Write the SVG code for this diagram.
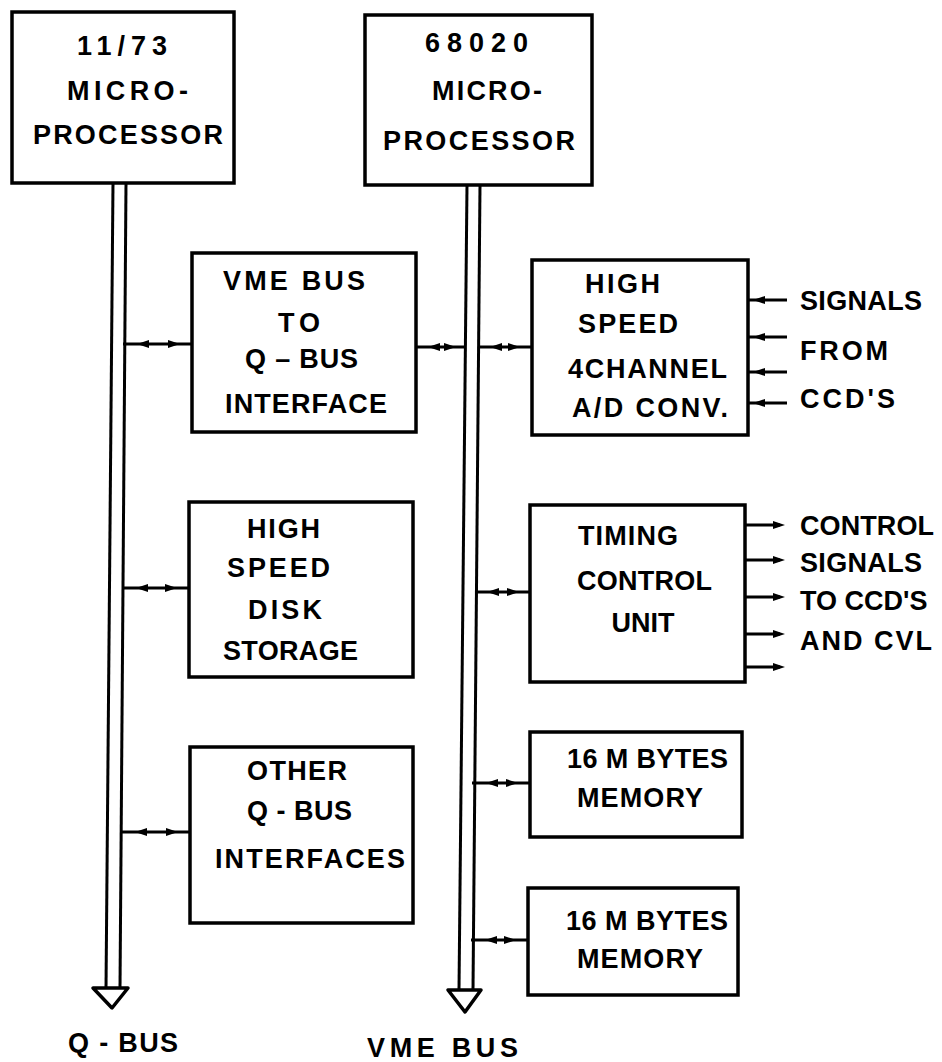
<svg xmlns="http://www.w3.org/2000/svg" xmlns:xlink="http://www.w3.org/1999/xlink" width="942" height="1062" viewBox="0 0 942 1062">
<style>
.box{fill:#fff;stroke:#000;stroke-width:3.5}
.bus{stroke:#000;stroke-width:3;fill:none}
.ln{stroke:#000;stroke-width:3;fill:none}
.tri{fill:#fff;stroke:#000;stroke-width:3.5;stroke-linejoin:round}
text{font-family:"Liberation Sans",Arial,sans-serif;font-weight:bold;font-size:27px;fill:#000}
</style>
<defs>
<path id="ah" d="M0,0 L-12,-4 L-12,4 Z" fill="#000"/>
</defs>
<rect width="942" height="1062" fill="#fff"/>

<g id="connectors">
<!-- Q bus -->
<line class="bus" x1="113" y1="183" x2="106" y2="988"/>
<line class="bus" x1="126" y1="183" x2="120" y2="988"/>
<polygon class="tri" points="93,988 128,988 112,1008"/>
<!-- VME bus -->
<line class="bus" x1="467" y1="185" x2="459" y2="990"/>
<line class="bus" x1="480" y1="185" x2="473" y2="990"/>
<polygon class="tri" points="448,990 481,990 465,1012"/>

<!-- bus-to-box connectors -->
<line class="ln" x1="123" y1="344" x2="192" y2="344"/>
<use xlink:href="#ah" transform="translate(137,344) rotate(180)"/>
<use xlink:href="#ah" transform="translate(180,344)"/>

<line class="ln" x1="416" y1="347" x2="466" y2="347"/>
<use xlink:href="#ah" transform="translate(428,347) rotate(180)"/>
<use xlink:href="#ah" transform="translate(456,347)"/>

<line class="ln" x1="478" y1="347" x2="532" y2="347"/>
<use xlink:href="#ah" transform="translate(490,347) rotate(180)"/>
<use xlink:href="#ah" transform="translate(520,347)"/>

<line class="ln" x1="122" y1="588" x2="189" y2="588"/>
<use xlink:href="#ah" transform="translate(136,588) rotate(180)"/>
<use xlink:href="#ah" transform="translate(177,588)"/>

<line class="ln" x1="475" y1="592" x2="530" y2="592"/>
<use xlink:href="#ah" transform="translate(487,592) rotate(180)"/>
<use xlink:href="#ah" transform="translate(519,592)"/>

<line class="ln" x1="121" y1="832" x2="190" y2="832"/>
<use xlink:href="#ah" transform="translate(135,832) rotate(180)"/>
<use xlink:href="#ah" transform="translate(178,832)"/>

<line class="ln" x1="472" y1="783" x2="530" y2="783"/>
<use xlink:href="#ah" transform="translate(486,783) rotate(180)"/>
<use xlink:href="#ah" transform="translate(518,783)"/>

<line class="ln" x1="471" y1="940" x2="528" y2="940"/>
<use xlink:href="#ah" transform="translate(485,940) rotate(180)"/>
<use xlink:href="#ah" transform="translate(516,940)"/>

<!-- inputs to A/D -->
<line class="ln" x1="748" y1="300" x2="787" y2="300"/>
<use xlink:href="#ah" transform="translate(753,300) rotate(180)"/>
<line class="ln" x1="748" y1="337" x2="787" y2="337"/>
<use xlink:href="#ah" transform="translate(753,337) rotate(180)"/>
<line class="ln" x1="748" y1="372" x2="787" y2="372"/>
<use xlink:href="#ah" transform="translate(753,372) rotate(180)"/>
<line class="ln" x1="748" y1="403" x2="787" y2="403"/>
<use xlink:href="#ah" transform="translate(753,403) rotate(180)"/>

<!-- outputs from timing -->
<line class="ln" x1="745" y1="525" x2="780" y2="525"/>
<use xlink:href="#ah" transform="translate(785,525)"/>
<line class="ln" x1="745" y1="560" x2="780" y2="560"/>
<use xlink:href="#ah" transform="translate(785,560)"/>
<line class="ln" x1="745" y1="597" x2="780" y2="597"/>
<use xlink:href="#ah" transform="translate(785,597)"/>
<line class="ln" x1="745" y1="634" x2="780" y2="634"/>
<use xlink:href="#ah" transform="translate(785,634)"/>
<line class="ln" x1="745" y1="667" x2="780" y2="667"/>
<use xlink:href="#ah" transform="translate(785,667)"/>
</g>

<g id="cpu1173">
<rect class="box" x="12" y="12" width="222" height="171"/>
<text x="77" y="55" textLength="90" lengthAdjust="spacing">11/73</text>
<text x="67" y="100" textLength="121" lengthAdjust="spacing">MICRO-</text>
<text x="33" y="144" textLength="190" lengthAdjust="spacing">PROCESSOR</text>
</g>

<g id="cpu68020">
<rect class="box" x="365" y="15" width="227" height="170"/>
<text x="425" y="52" textLength="103" lengthAdjust="spacing">68020</text>
<text x="432" y="100" textLength="110" lengthAdjust="spacing">MICRO-</text>
<text x="383" y="150" textLength="192" lengthAdjust="spacing">PROCESSOR</text>
</g>

<g id="vme_q_interface">
<rect class="box" x="192" y="253" width="224" height="179"/>
<text x="223" y="290" textLength="142" lengthAdjust="spacing">VME BUS</text>
<text x="278" y="332" textLength="42" lengthAdjust="spacing">TO</text>
<text x="245" y="368" textLength="113" lengthAdjust="spacing">Q – BUS</text>
<text x="225" y="413" textLength="162" lengthAdjust="spacing">INTERFACE</text>
</g>

<g id="ad_conv">
<rect class="box" x="532" y="260" width="216" height="175"/>
<text x="585" y="293" textLength="75" lengthAdjust="spacing">HIGH</text>
<text x="578" y="333" textLength="100" lengthAdjust="spacing">SPEED</text>
<text x="568" y="378" textLength="159" lengthAdjust="spacing">4CHANNEL</text>
<text x="572" y="417" textLength="156" lengthAdjust="spacing">A/D CONV.</text>
</g>

<g id="ad_inputs_label">
<text x="800" y="310" textLength="122" lengthAdjust="spacing">SIGNALS</text>
<text x="800" y="360" textLength="88" lengthAdjust="spacing">FROM</text>
<text x="800" y="408" textLength="95" lengthAdjust="spacing">CCD'S</text>
</g>

<g id="disk">
<rect class="box" x="189" y="502" width="224" height="175"/>
<text x="247" y="538" textLength="73" lengthAdjust="spacing">HIGH</text>
<text x="227" y="577" textLength="103" lengthAdjust="spacing">SPEED</text>
<text x="248" y="619" textLength="74" lengthAdjust="spacing">DISK</text>
<text x="223" y="660" textLength="135" lengthAdjust="spacing">STORAGE</text>
</g>

<g id="timing">
<rect class="box" x="530" y="505" width="215" height="177"/>
<text x="578" y="545" textLength="100" lengthAdjust="spacing">TIMING</text>
<text x="577" y="590" textLength="135" lengthAdjust="spacing">CONTROL</text>
<text x="643" y="632" text-anchor="middle">UNIT</text>
</g>

<g id="timing_outputs_label">
<text x="800" y="535" textLength="134" lengthAdjust="spacing">CONTROL</text>
<text x="800" y="572" textLength="122" lengthAdjust="spacing">SIGNALS</text>
<text x="800" y="610">TO CCD'S</text>
<text x="800" y="650" textLength="132" lengthAdjust="spacing">AND CVL</text>
</g>

<g id="other_q">
<rect class="box" x="190" y="747" width="223" height="176"/>
<text x="247" y="780" textLength="100" lengthAdjust="spacing">OTHER</text>
<text x="247" y="820" textLength="105" lengthAdjust="spacing">Q - BUS</text>
<text x="215" y="868" textLength="190" lengthAdjust="spacing">INTERFACES</text>
</g>

<g id="mem1">
<rect class="box" x="530" y="732" width="212" height="105"/>
<text x="567" y="768" textLength="161" lengthAdjust="spacing">16 M BYTES</text>
<text x="577" y="807" textLength="126" lengthAdjust="spacing">MEMORY</text>
</g>

<g id="mem2">
<rect class="box" x="528" y="888" width="210" height="107"/>
<text x="566" y="930" textLength="162" lengthAdjust="spacing">16 M BYTES</text>
<text x="577" y="968" textLength="126" lengthAdjust="spacing">MEMORY</text>
</g>

<g id="bus_labels">
<text x="68" y="1052" textLength="110" lengthAdjust="spacing">Q - BUS</text>
<text x="367" y="1057" textLength="151" lengthAdjust="spacing">VME BUS</text>
</g>
</svg>
